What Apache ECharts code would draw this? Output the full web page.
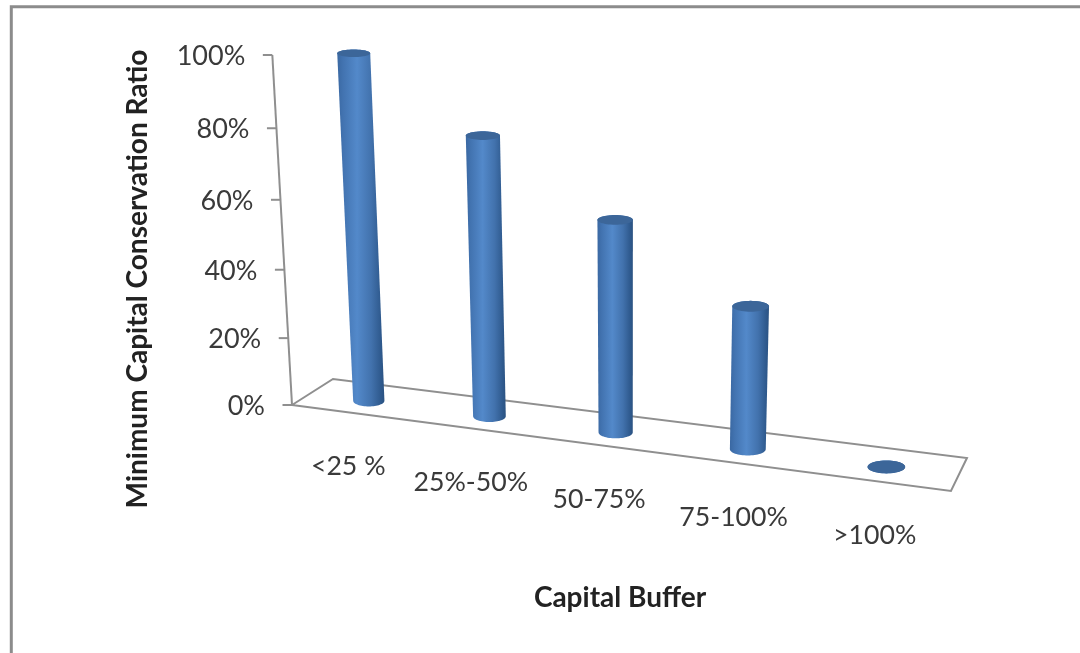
<!DOCTYPE html>
<html>
<head>
<meta charset="utf-8">
<style>html,body{margin:0;padding:0;background:#fff}#chart{width:1080px;height:653px}</style>
<script src="https://cdn.jsdelivr.net/npm/echarts@6/dist/echarts.min.js"></script>
</head>
<body>
<div id="chart"></div>
<script>
// Chart content
const categories = ['<25 %', '25%-50%', '50-75%', '75-100%', '>100%'];
const ratios = [100, 80, 60, 40, 0];
const yTicks = [0, 20, 40, 60, 80, 100];
const yTitle = 'Minimum Capital Conservation Ratio';
const xTitle = 'Capital Buffer';

const FONT = 'Lato, "Open Sans", sans-serif';
const AXIS_COLOR = '#8f8f8f';
const TEXT_COLOR = '#3a3a3a';

// Perspective camera: s runs along the categories, r from the front of the floor
// to the back, t up the value axis (each 0..1).
function project(s, r, t) {
  const w = -0.111 * s + 0.04223 * r - 0.055 * t + 1;
  return [
    (553.4 * s + 55.06 * r - 34.65 * t + 292) / w,
    (31.5 * s - 10 * r - 353 * t + 405) / w
  ];
}

// Grid pixels to normalised axis positions, so the axes' scales drive the projection.
function toUnit(params, api, cat, val) {
  const cs = params.coordSys;
  const p = api.coord([cat, val]);
  return { s: (p[0] - cs.x) / cs.width, t: (cs.y + cs.height - p[1]) / cs.height };
}

const CYL_R = 0.44;      // depth of the row of cylinders on the floor
const RADIUS_S = 0.0265; // cylinder radius along the categories
const RADIUS_R = 0.23;   // cylinder radius in depth

function ellipseAt(s, t) {
  const c = project(s, CYL_R, t);
  const rx = (project(s + RADIUS_S, CYL_R, t)[0] - project(s - RADIUS_S, CYL_R, t)[0]) / 2;
  const ry = Math.abs(project(s, CYL_R - RADIUS_R, t)[1] - project(s, CYL_R + RADIUS_R, t)[1]) / 2;
  // Ease the foreshortening so caps stay open near the top of the chart
  return { c, rx, ry: 0.6 * ry + 2 };
}

function arc(e, from, to, steps) {
  const pts = [];
  for (let k = 0; k <= steps; k++) {
    const a = from + (to - from) * k / steps;
    pts.push([e.c[0] + e.rx * Math.cos(a), e.c[1] + e.ry * Math.sin(a)]);
  }
  return pts;
}

const bodyFill = {
  type: 'linear', x: 0, y: 0, x2: 1, y2: 0,
  colorStops: [
    { offset: 0, color: '#3a68a2' },
    { offset: 0.12, color: '#4273b0' },
    { offset: 0.42, color: '#5389ca' },
    { offset: 0.72, color: '#4272ad' },
    { offset: 0.92, color: '#2f5a8e' },
    { offset: 1, color: '#2b5281' }
  ]
};

function renderCylinder(params, api) {
  const u = toUnit(params, api, api.value(0), api.value(1));
  const base = ellipseAt(u.s, 0);
  const top = ellipseAt(u.s, u.t);
  const outline = arc(base, 0, Math.PI, 32).concat(arc(top, Math.PI, 2 * Math.PI, 32));
  return {
    type: 'group',
    children: [
      { type: 'polygon', shape: { points: outline }, style: { fill: bodyFill } },
      { type: 'polygon', shape: { points: arc(top, 0, 2 * Math.PI, 48) }, style: { fill: '#3c6699' } }
    ]
  };
}

function renderFloor(params, api) {
  const corners = [project(0, 0, 0), project(1, 0, 0), project(1, 1, 0), project(0, 1, 0)];
  return {
    type: 'group',
    children: [
      { type: 'polygon', shape: { points: corners },
        style: { fill: '#fff', stroke: AXIS_COLOR, lineWidth: 2 } },
      { type: 'polyline', shape: { points: [project(0, 0, 0), project(0, 0, 1)] },
        style: { fill: 'none', stroke: AXIS_COLOR, lineWidth: 2 } }
    ]
  };
}

function renderYTick(params, api) {
  const val = api.value(1);
  const u = toUnit(params, api, 0, val);
  const p = project(0, 0, u.t);
  return {
    type: 'group',
    children: [
      { type: 'line', shape: { x1: p[0] - 9.5, y1: p[1], x2: p[0], y2: p[1] },
        style: { stroke: AXIS_COLOR, lineWidth: 2 } },
      { type: 'text', style: {
        text: val + '%', x: p[0] - 27, y: p[1] + 1.5, align: 'right', verticalAlign: 'middle',
        fontFamily: FONT, fontSize: 27, fill: TEXT_COLOR } }
    ]
  };
}

function renderCategoryLabel(params, api) {
  const idx = api.value(0);
  const u = toUnit(params, api, idx, 0);
  const p = project(u.s, 0, 0);
  return {
    type: 'text',
    style: {
      text: categories[idx], x: p[0] - 3, y: p[1] + 54, align: 'center', verticalAlign: 'middle',
      fontFamily: FONT, fontSize: 26.7, fill: TEXT_COLOR
    }
  };
}

const chart = echarts.init(document.getElementById('chart'), null, { renderer: 'canvas' });
chart.setOption({
  animation: false,
  backgroundColor: '#ffffff',
  grid: { left: 292, top: 55, width: 660, height: 350 },
  xAxis: { type: 'category', data: categories, show: false },
  yAxis: { type: 'value', min: 0, max: 100, interval: 20, show: false },
  series: [
    { type: 'custom', name: 'Floor and axis', coordinateSystem: 'cartesian2d', clip: false, z: 1,
      renderItem: renderFloor, data: [[0, 0]] },
    { type: 'custom', name: 'Value ticks', coordinateSystem: 'cartesian2d', clip: false, z: 2,
      renderItem: renderYTick, data: yTicks.map(v => [0, v]) },
    { type: 'custom', name: 'Category labels', coordinateSystem: 'cartesian2d', clip: false, z: 2,
      renderItem: renderCategoryLabel, data: categories.map((c, i) => [i, 0]) },
    { type: 'custom', name: 'Minimum Capital Conservation Ratio', coordinateSystem: 'cartesian2d', clip: false, z: 3,
      renderItem: renderCylinder, data: ratios.map((v, i) => [i, v]) }
  ],
  graphic: [
    { type: 'polyline', shape: { points: [[11.3, 653], [11.3, 6.7], [1080, 6.7]] },
      style: { fill: 'none', stroke: '#8c8c8c', lineWidth: 3 } },
    { type: 'text', x: 138, y: 279, rotation: Math.PI / 2, originX: 0, originY: 0,
      style: { text: yTitle, align: 'center', verticalAlign: 'middle',
        fontFamily: FONT, fontSize: 28, fontWeight: 'bold', fill: '#222' } },
    { type: 'text', x: 620, y: 598,
      style: { text: xTitle, align: 'center', verticalAlign: 'middle',
        fontFamily: FONT, fontSize: 28, fontWeight: 'bold', fill: '#222' } }
  ]
});
</script>
</body>
</html>
